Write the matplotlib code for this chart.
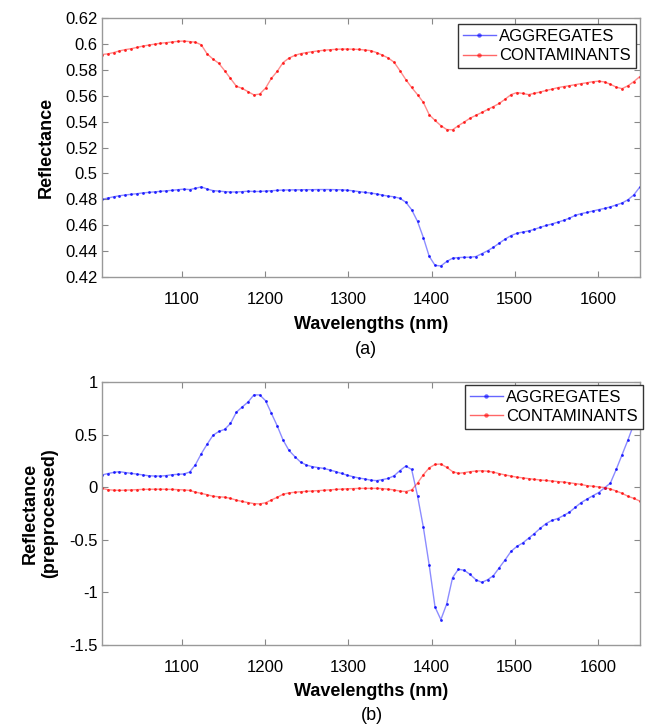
"""
Two-panel NIR reflectance spectra (raw and preprocessed) for aggregates vs contaminants.
"""

import numpy as np
import matplotlib

matplotlib.use("Agg")
import matplotlib.pyplot as plt

# band centres (uniform sampling of the imager, 1004-1650 nm)
WAVELENGTHS = np.linspace(1004, 1650, 93)

RAW_AGGREGATES = [
    0.4800, 0.4810, 0.4820, 0.4828, 0.4834, 0.4839, 0.4844, 0.4850, 0.4854, 0.4858,
    0.4862, 0.4866, 0.4870, 0.4875, 0.4879, 0.4876, 0.4885, 0.4897, 0.4880, 0.4868,
    0.4864, 0.4860, 0.4857, 0.4857, 0.4860, 0.4863, 0.4861, 0.4861, 0.4864, 0.4867,
    0.4870, 0.4872, 0.4873, 0.4874, 0.4874, 0.4875, 0.4875, 0.4876, 0.4876, 0.4876,
    0.4875, 0.4874, 0.4871, 0.4866, 0.4860, 0.4854, 0.4849, 0.4842, 0.4833, 0.4825,
    0.4820, 0.4808, 0.4778, 0.4720, 0.4630, 0.4505, 0.4360, 0.4290, 0.4285, 0.4320,
    0.4345, 0.4350, 0.4352, 0.4353, 0.4358, 0.4380, 0.4403, 0.4430, 0.4462, 0.4493,
    0.4520, 0.4538, 0.4547, 0.4556, 0.4568, 0.4584, 0.4598, 0.4610, 0.4624, 0.4638,
    0.4655, 0.4676, 0.4690, 0.4699, 0.4710, 0.4721, 0.4730, 0.4742, 0.4757, 0.4772,
    0.4797, 0.4834, 0.4893,
]
RAW_CONTAMINANTS = [
    0.5920, 0.5925, 0.5935, 0.5948, 0.5958, 0.5965, 0.5975, 0.5985, 0.5993, 0.6000,
    0.6007, 0.6012, 0.6017, 0.6022, 0.6024, 0.6020, 0.6015, 0.5995, 0.5925, 0.5885,
    0.5852, 0.5795, 0.5735, 0.5675, 0.5658, 0.5633, 0.5608, 0.5614, 0.5660, 0.5736,
    0.5790, 0.5858, 0.5892, 0.5913, 0.5927, 0.5935, 0.5942, 0.5948, 0.5953, 0.5957,
    0.5960, 0.5962, 0.5962, 0.5961, 0.5959, 0.5955, 0.5950, 0.5935, 0.5915, 0.5893,
    0.5860, 0.5795, 0.5726, 0.5665, 0.5610, 0.5550, 0.5455, 0.5410, 0.5370, 0.5340,
    0.5338, 0.5370, 0.5398, 0.5428, 0.5450, 0.5472, 0.5495, 0.5518, 0.5542, 0.5575,
    0.5610, 0.5626, 0.5619, 0.5610, 0.5620, 0.5630, 0.5642, 0.5652, 0.5664, 0.5672,
    0.5679, 0.5687, 0.5695, 0.5702, 0.5710, 0.5714, 0.5708, 0.5690, 0.5668, 0.5656,
    0.5678, 0.5710, 0.5748,
]

PRE_AGGREGATES = [
    0.117, 0.131, 0.142, 0.149, 0.141, 0.133, 0.126, 0.118, 0.110, 0.108,
    0.107, 0.112, 0.120, 0.124, 0.127, 0.145, 0.215, 0.320, 0.410, 0.495,
    0.532, 0.552, 0.608, 0.715, 0.765, 0.812, 0.880, 0.880, 0.825, 0.705,
    0.585, 0.450, 0.352, 0.293, 0.240, 0.212, 0.197, 0.188, 0.180, 0.165,
    0.150, 0.132, 0.115, 0.101, 0.088, 0.080, 0.068, 0.064, 0.074, 0.085,
    0.110, 0.160, 0.203, 0.170, -0.080, -0.380, -0.740, -1.140, -1.260, -1.110,
    -0.860, -0.780, -0.790, -0.830, -0.880, -0.905, -0.880, -0.840, -0.765, -0.690,
    -0.610, -0.563, -0.530, -0.485, -0.440, -0.390, -0.345, -0.315, -0.297, -0.268,
    -0.237, -0.190, -0.145, -0.112, -0.080, -0.050, -0.005, 0.040, 0.170, 0.310,
    0.450, 0.600, 0.760,
]
PRE_CONTAMINANTS = [
    -0.010, -0.022, -0.027, -0.029, -0.027, -0.025, -0.022, -0.020, -0.019, -0.018,
    -0.018, -0.019, -0.020, -0.022, -0.024, -0.030, -0.045, -0.058, -0.070, -0.085,
    -0.090, -0.094, -0.105, -0.122, -0.135, -0.145, -0.155, -0.158, -0.147, -0.120,
    -0.095, -0.066, -0.053, -0.047, -0.042, -0.038, -0.035, -0.031, -0.028, -0.024,
    -0.020, -0.017, -0.014, -0.012, -0.010, -0.010, -0.010, -0.010, -0.012, -0.018,
    -0.025, -0.036, -0.040, -0.025, 0.040, 0.120, 0.185, 0.218, 0.222, 0.190,
    0.150, 0.133, 0.140, 0.149, 0.155, 0.158, 0.153, 0.145, 0.130, 0.118,
    0.107, 0.097, 0.090, 0.083, 0.076, 0.070, 0.065, 0.060, 0.055, 0.050,
    0.043, 0.036, 0.027, 0.016, 0.010, 0.004, -0.002, -0.015, -0.035, -0.057,
    -0.085, -0.105, -0.130,
]

SERIES_NAMES = ["AGGREGATES", "CONTAMINANTS"]
X_TICKS = [1100, 1200, 1300, 1400, 1500, 1600]
RAW_Y_TICKS = [0.42, 0.44, 0.46, 0.48, 0.5, 0.52, 0.54, 0.56, 0.58, 0.6, 0.62]
PRE_Y_TICKS = [-1.5, -1, -0.5, 0, 0.5, 1]

plt.rcParams["font.family"] = ["Liberation Sans", "DejaVu Sans"]
plt.rcParams["axes.unicode_minus"] = False

COLORS = ["#0000ff", "#ff0000"]


def draw(ax, aggr, cont, yticks, ylim, ylabel, leg_anchor):
    for vals, col, name in zip([aggr, cont], COLORS, SERIES_NAMES):
        ax.plot(WAVELENGTHS, vals, color=col, alpha=0.45, linewidth=1.0)
        ax.plot(WAVELENGTHS, vals, linestyle="none", marker="o", markersize=2.0,
                color=col, alpha=0.85, markeredgewidth=0)
        # legend proxy
        ax.plot([], [], color=col, alpha=0.6, linewidth=1.0, marker="o",
                markersize=3.2, markerfacecolor=col, markeredgewidth=0, label=name)
    ax.set_xlim(1004, 1650)
    ax.set_ylim(*ylim)
    ax.set_xticks(X_TICKS)
    ax.set_yticks(yticks)
    ax.set_yticklabels([f"{t:g}" for t in yticks])
    ax.tick_params(direction="in", length=4, width=0.8, color="#888888",
                   labelsize=12, top=True, right=True)
    ax.tick_params(axis="x", pad=11)
    ax.tick_params(axis="y", pad=3)
    for sp in ax.spines.values():
        sp.set_color("#999999")
        sp.set_linewidth(1.0)
    ax.set_xlabel("Wavelengths (nm)", fontsize=13, fontweight="bold", labelpad=6)
    ax.set_ylabel(ylabel, fontsize=13, fontweight="bold", labelpad=8)
    leg = ax.legend(loc="upper right", bbox_to_anchor=leg_anchor, fontsize=12,
                    frameon=True, fancybox=False, borderaxespad=0.0,
                    handlelength=2.0, handletextpad=0.2, borderpad=0.3,
                    labelspacing=0.25, framealpha=1.0)
    leg.get_frame().set_edgecolor("#333333")
    leg.get_frame().set_linewidth(1.0)
    leg.set_zorder(10)


fig = plt.figure(figsize=(6.45, 7.26), dpi=100)
ax1 = fig.add_axes([0.158, 0.6185, 0.8336, 0.3563])
ax2 = fig.add_axes([0.158, 0.1118, 0.8336, 0.3616])

draw(ax1, RAW_AGGREGATES, RAW_CONTAMINANTS, RAW_Y_TICKS, (0.42, 0.62), "Reflectance",
     (0.993, 0.977))
draw(ax2, PRE_AGGREGATES, PRE_CONTAMINANTS, PRE_Y_TICKS, (-1.5, 1),
     "Reflectance\n(preprocessed)", (1.006, 0.99))

fig.text(366 / 645, 1 - 350 / 726, "(a)", ha="center", va="center", fontsize=13)
fig.text(372 / 645, 1 - 715 / 726, "(b)", ha="center", va="center", fontsize=13)

fig.savefig("out.png", dpi=100)
plt.close(fig)
